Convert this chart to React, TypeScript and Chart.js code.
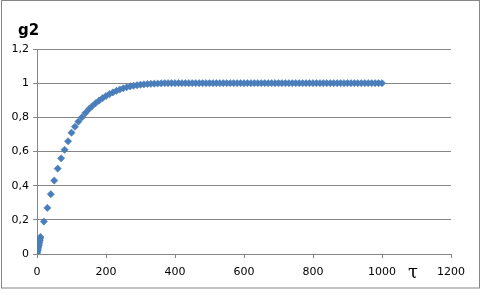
import React, { useEffect, useRef } from "react";
import { Chart, registerables } from "chart.js";

Chart.register(...registerables);

const tau: number[] = [
  0, 1, 2, 3, 4, 5, 6, 7, 8, 9, 10,
  20, 30, 40, 50, 60, 70, 80, 90, 100,
  110, 120, 130, 140, 150, 160, 170, 180, 190, 200,
  210, 220, 230, 240, 250, 260, 270, 280, 290, 300,
  310, 320, 330, 340, 350, 360, 370, 380, 390, 400,
  410, 420, 430, 440, 450, 460, 470, 480, 490, 500,
  510, 520, 530, 540, 550, 560, 570, 580, 590, 600,
  610, 620, 630, 640, 650, 660, 670, 680, 690, 700,
  710, 720, 730, 740, 750, 760, 770, 780, 790, 800,
  810, 820, 830, 840, 850, 860, 870, 880, 890, 900,
  910, 920, 930, 940, 950, 960, 970, 980, 990, 1000,
];

const g2: number[] = [
  0, 0.01, 0.02, 0.03, 0.04, 0.05, 0.06, 0.07, 0.08, 0.09, 0.1,
  0.19, 0.27, 0.35, 0.43, 0.5, 0.56, 0.61, 0.66, 0.71,
  0.745, 0.775, 0.8, 0.825, 0.847, 0.866, 0.883, 0.898, 0.912, 0.925,
  0.936, 0.946, 0.955, 0.963, 0.97, 0.976, 0.981, 0.985, 0.988, 0.991,
  0.993, 0.995, 0.996, 0.997, 0.998, 0.999, 1, 1, 1, 1,
  1, 1, 1, 1, 1, 1, 1, 1, 1, 1,
  1, 1, 1, 1, 1, 1, 1, 1, 1, 1,
  1, 1, 1, 1, 1, 1, 1, 1, 1, 1,
  1, 1, 1, 1, 1, 1, 1, 1, 1, 1,
  1, 1, 1, 1, 1, 1, 1, 1, 1, 1,
  1, 1, 1, 1, 1, 1, 1, 1, 1, 1,
];

const yTitle = "g2";
const xTitle = "τ";

const GRID = "#868686";
const MARK = "#4a7ebb";

const decorPlugin = {
  id: "decor",
  beforeDraw(chart: any) {
    const ctx = chart.ctx;
    ctx.save();
    ctx.fillStyle = "#ffffff";
    ctx.fillRect(0, 0, chart.width, chart.height);
    ctx.strokeStyle = GRID;
    ctx.lineWidth = 1;
    ctx.strokeRect(1.5, 0.5, 478, 287.5);
    ctx.restore();
  },
  afterDraw(chart: any) {
    const ctx = chart.ctx;
    ctx.save();
    ctx.fillStyle = "#000000";
    ctx.font = "bold 15px 'DejaVu Sans'";
    ctx.textAlign = "left";
    ctx.textBaseline = "alphabetic";
    ctx.fillText(yTitle, 18, 35);
    ctx.font = "18px 'DejaVu Serif'";
    ctx.textAlign = "center";
    ctx.fillText(xTitle, 413, 278);
    ctx.restore();
  },
};

export default function App() {
  const ref = useRef<HTMLCanvasElement | null>(null);

  useEffect(() => {
    document.body.style.margin = "0";
    const canvas = ref.current;
    if (!canvas) return;
    const points = tau.map((t, i) => ({ x: t, y: g2[i] }));
    const chart = new Chart(canvas, {
      type: "scatter",
      data: {
        datasets: [
          {
            data: points,
            pointStyle: "rectRot",
            pointRadius: 3.6,
            pointBackgroundColor: MARK,
            pointBorderColor: MARK,
            pointBorderWidth: 0.6,
            showLine: false,
          },
        ],
      },
      options: {
        animation: false,
        responsive: false,
        devicePixelRatio: 1,
        layout: { padding: { left: 0, top: 49, right: 39, bottom: 11 } },
        plugins: {
          legend: { display: false },
          tooltip: { enabled: false },
        },
        scales: {
          x: {
            type: "linear",
            min: 0,
            max: 1200,
            afterFit: (s: any) => {
              s.height = 30;
            },
            ticks: {
              stepSize: 200,
              color: "#000000",
              padding: 8,
              maxRotation: 0,
              font: { family: "DejaVu Sans", size: 11 },
              callback: (v: any) => String(Math.round(Number(v))),
            },
            grid: {
              drawOnChartArea: false,
              drawTicks: true,
              tickLength: 4,
              tickColor: GRID,
            },
            border: { color: GRID, width: 1 },
          },
          y: {
            min: 0,
            max: 1.2,
            afterFit: (s: any) => {
              s.width = 37;
            },
            ticks: {
              stepSize: 0.2,
              color: "#000000",
              padding: 4,
              font: { family: "DejaVu Sans", size: 11 },
              callback: (v: any) => String(Math.round(Number(v) * 10) / 10).replace(".", ","),
            },
            grid: {
              color: GRID,
              drawTicks: true,
              tickLength: 4,
              tickColor: GRID,
            },
            border: { color: GRID, width: 1 },
          },
        },
      },
      plugins: [decorPlugin],
    });
    return () => chart.destroy();
  }, []);

  return (
    <div style={{ width: 490, height: 295 }}>
      <canvas ref={ref} width={490} height={295} style={{ display: "block" }} />
    </div>
  );
}
